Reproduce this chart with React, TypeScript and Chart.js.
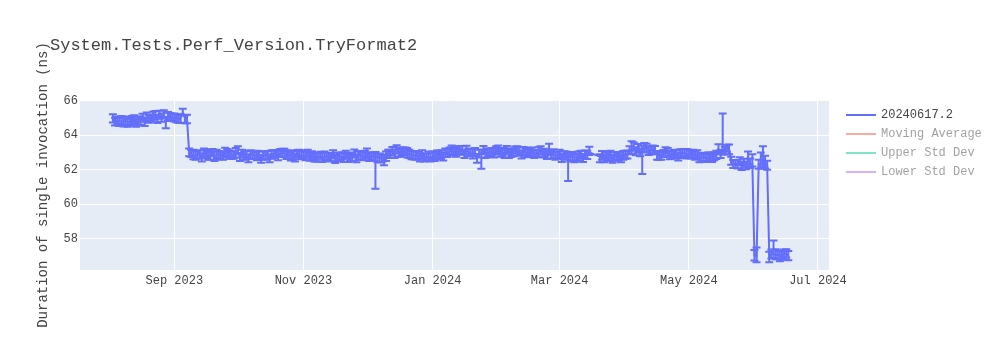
import React, { useEffect, useRef } from "react";
import { Chart, registerables } from "chart.js";

Chart.register(...registerables);

const chartTitle = "System.Tests.Perf_Version.TryFormat2";
const yAxisTitle = "Duration of single invocation (ns)";
const seriesName = "20240617.2";
const seriesColor = "#636EFA";
const hiddenSeriesNames = ["Moving Average", "Upper Std Dev", "Lower Std Dev"];
const hiddenSeriesColors = ["#EF553B", "#00CC96", "#AB63FA"];

const dates = [
  "2023-08-03", "2023-08-04", "2023-08-05", "2023-08-06", "2023-08-07", "2023-08-08", "2023-08-09", "2023-08-10", "2023-08-11", "2023-08-12",
  "2023-08-13", "2023-08-14", "2023-08-15", "2023-08-16", "2023-08-17", "2023-08-18", "2023-08-19", "2023-08-20", "2023-08-21", "2023-08-22",
  "2023-08-23", "2023-08-24", "2023-08-25", "2023-08-26", "2023-08-27", "2023-08-28", "2023-08-29", "2023-08-30", "2023-08-31",
  "2023-09-01", "2023-09-02", "2023-09-03", "2023-09-04", "2023-09-05", "2023-09-06", "2023-09-07", "2023-09-08", "2023-09-09", "2023-09-10",
  "2023-09-11", "2023-09-12", "2023-09-13", "2023-09-14", "2023-09-15", "2023-09-16", "2023-09-17", "2023-09-18", "2023-09-19", "2023-09-20",
  "2023-09-21", "2023-09-22", "2023-09-23", "2023-09-24", "2023-09-25", "2023-09-26", "2023-09-27", "2023-09-28", "2023-09-29", "2023-09-30",
  "2023-10-01", "2023-10-02", "2023-10-03", "2023-10-04", "2023-10-05", "2023-10-06", "2023-10-07", "2023-10-08", "2023-10-09", "2023-10-10",
  "2023-10-11", "2023-10-12", "2023-10-13", "2023-10-14", "2023-10-15", "2023-10-16", "2023-10-17", "2023-10-18", "2023-10-19", "2023-10-20",
  "2023-10-21", "2023-10-22", "2023-10-23", "2023-10-24", "2023-10-25", "2023-10-26", "2023-10-27", "2023-10-28", "2023-10-29", "2023-10-30",
  "2023-10-31",
  "2023-11-01", "2023-11-02", "2023-11-03", "2023-11-04", "2023-11-05", "2023-11-06", "2023-11-07", "2023-11-08", "2023-11-09", "2023-11-10",
  "2023-11-11", "2023-11-12", "2023-11-13", "2023-11-14", "2023-11-15", "2023-11-16", "2023-11-17", "2023-11-18", "2023-11-19", "2023-11-20",
  "2023-11-21", "2023-11-22", "2023-11-23", "2023-11-24", "2023-11-25", "2023-11-26", "2023-11-27", "2023-11-28", "2023-11-29", "2023-11-30",
  "2023-12-01", "2023-12-02", "2023-12-03", "2023-12-04", "2023-12-05", "2023-12-06", "2023-12-07", "2023-12-08", "2023-12-09", "2023-12-10",
  "2023-12-11", "2023-12-12", "2023-12-13", "2023-12-14", "2023-12-15", "2023-12-16", "2023-12-17", "2023-12-18", "2023-12-19", "2023-12-20",
  "2023-12-21", "2023-12-22", "2023-12-23", "2023-12-24", "2023-12-25", "2023-12-26", "2023-12-27", "2023-12-28", "2023-12-29", "2023-12-30",
  "2023-12-31",
  "2024-01-01", "2024-01-02", "2024-01-03", "2024-01-04", "2024-01-05", "2024-01-06", "2024-01-07", "2024-01-08", "2024-01-09", "2024-01-10",
  "2024-01-11", "2024-01-12", "2024-01-13", "2024-01-14", "2024-01-15", "2024-01-16", "2024-01-17", "2024-01-18", "2024-01-19", "2024-01-20",
  "2024-01-21", "2024-01-22", "2024-01-23", "2024-01-24", "2024-01-25", "2024-01-26", "2024-01-27", "2024-01-28", "2024-01-29", "2024-01-30",
  "2024-01-31",
  "2024-02-01", "2024-02-02", "2024-02-03", "2024-02-04", "2024-02-05", "2024-02-06", "2024-02-07", "2024-02-08", "2024-02-09", "2024-02-10",
  "2024-02-11", "2024-02-12", "2024-02-13", "2024-02-14", "2024-02-15", "2024-02-16", "2024-02-17", "2024-02-18", "2024-02-19", "2024-02-20",
  "2024-02-21", "2024-02-22", "2024-02-23", "2024-02-24", "2024-02-25", "2024-02-26", "2024-02-27", "2024-02-28", "2024-02-29",
  "2024-03-01", "2024-03-02", "2024-03-03", "2024-03-04", "2024-03-05", "2024-03-06", "2024-03-07", "2024-03-08", "2024-03-09", "2024-03-10",
  "2024-03-11", "2024-03-12", "2024-03-13", "2024-03-14", "2024-03-15", "2024-03-20", "2024-03-21", "2024-03-22", "2024-03-23", "2024-03-24",
  "2024-03-25", "2024-03-26", "2024-03-27", "2024-03-28", "2024-03-29", "2024-03-30", "2024-03-31",
  "2024-04-01", "2024-04-02", "2024-04-03", "2024-04-04", "2024-04-05", "2024-04-06", "2024-04-07", "2024-04-08", "2024-04-09", "2024-04-10",
  "2024-04-11", "2024-04-12", "2024-04-13", "2024-04-14", "2024-04-15", "2024-04-16", "2024-04-17", "2024-04-18", "2024-04-19", "2024-04-20",
  "2024-04-21", "2024-04-22", "2024-04-23", "2024-04-24", "2024-04-25", "2024-04-26", "2024-04-27", "2024-04-28", "2024-04-29", "2024-04-30",
  "2024-05-01", "2024-05-02", "2024-05-03", "2024-05-04", "2024-05-05", "2024-05-06", "2024-05-07", "2024-05-08", "2024-05-09", "2024-05-10",
  "2024-05-11", "2024-05-12", "2024-05-13", "2024-05-14", "2024-05-15", "2024-05-16", "2024-05-17", "2024-05-18", "2024-05-19", "2024-05-20",
  "2024-05-21", "2024-05-22", "2024-05-23", "2024-05-24", "2024-05-25", "2024-05-26", "2024-05-27", "2024-05-28", "2024-05-29", "2024-05-30",
  "2024-05-31",
  "2024-06-01", "2024-06-02", "2024-06-03", "2024-06-04", "2024-06-05", "2024-06-06", "2024-06-07", "2024-06-08", "2024-06-09", "2024-06-10",
  "2024-06-11", "2024-06-12", "2024-06-13", "2024-06-14", "2024-06-15", "2024-06-16", "2024-06-17",
];

const values = [
  // Aug 2023
  64.9, 64.85, 64.82, 64.8, 64.78, 64.82, 64.8, 64.76, 64.75, 64.8,
  64.85, 64.78, 64.8, 64.88, 64.92, 64.85, 65.02, 64.98, 64.95, 65.05,
  65.1, 65.0, 65.15, 65.05, 65.12, 64.9, 65.05, 65.1, 65.0,
  // Sep
  64.95, 65.05, 64.9, 65.0, 65.3, 65.0, 64.9, 63.05, 62.9, 62.85,
  62.75, 62.95, 62.85, 62.75, 62.9, 63.0, 62.8, 62.85, 62.95, 62.75,
  62.85, 62.9, 62.8, 62.85, 62.95, 63.05, 62.85, 62.9, 62.8, 62.95,
  // Oct
  63.05, 62.8, 62.9, 62.85, 62.75, 62.75, 62.85, 62.9, 62.8, 62.8,
  62.75, 62.7, 62.8, 62.85, 62.75, 62.75, 62.85, 62.95, 62.9, 62.8,
  62.9, 63.05, 62.95, 62.9, 62.8, 62.85, 62.8, 62.75, 62.9, 62.85,
  62.8,
  // Nov
  62.8, 62.85, 62.9, 62.8, 62.75, 62.8, 62.7, 62.75, 62.8, 62.7,
  62.75, 62.8, 62.7, 62.75, 62.8, 62.7, 62.72, 62.78, 62.75, 62.7,
  62.8, 62.75, 62.7, 62.8, 62.85, 62.75, 62.8, 62.85, 62.75, 62.8,
  // Dec
  62.85, 62.8, 62.75, 62.8, 62.7, 62.75, 62.65, 62.7, 62.6, 62.75,
  62.85, 63.0, 63.05, 62.95, 63.1, 63.05, 63.0, 63.1, 63.05, 62.95,
  62.85, 62.9, 62.8, 62.85, 62.75, 62.8, 62.85, 62.75, 62.7, 62.75,
  62.65,
  // Jan 2024
  62.75, 62.8, 62.85, 62.9, 62.8, 62.85, 62.95, 63.0, 63.05, 63.1,
  63.0, 63.05, 63.1, 63.15, 63.05, 63.0, 63.1, 63.05, 62.95, 62.9,
  62.95, 62.75, 62.9, 62.95, 63.05, 63.0, 62.95, 63.05, 63.0, 62.95,
  63.05,
  // Feb
  63.1, 63.05, 63.0, 62.95, 63.05, 63.0, 62.95, 63.05, 63.1, 63.05,
  63.0, 62.95, 63.05, 63.0, 62.95, 63.05, 63.0, 62.95, 62.9, 63.0,
  63.05, 63.0, 62.95, 62.9, 63.0, 62.95, 62.9, 62.85, 62.8,
  // Mar
  62.85, 62.75, 62.8, 62.85, 62.7, 62.8, 62.75, 62.7, 62.7, 62.75,
  62.8, 62.75, 62.85, 62.9, 63.0, 62.75, 62.8, 62.7, 62.75, 62.75,
  62.8, 62.7, 62.75, 62.8, 62.7, 62.75, 62.8,
  // Apr
  62.8, 62.95, 63.1, 63.2, 63.25, 63.15, 63.2, 63.05, 63.15, 63.25,
  63.2, 63.15, 63.1, 63.2, 63.05, 62.9, 62.8, 62.85, 62.9, 63.0,
  62.95, 62.9, 62.85, 62.95, 62.8, 62.85, 62.9, 63.0, 62.95, 62.9,
  // May
  62.85, 62.95, 62.9, 62.85, 62.8, 62.75, 62.7, 62.75, 62.65, 62.7,
  62.7, 62.75, 62.75, 62.9, 63.05, 63.0, 63.1, 63.15, 63.2, 63.15,
  62.45, 62.4, 62.3, 62.35, 62.4, 62.3, 62.35, 62.3, 62.3, 62.35,
  62.35,
  // Jun
  57.05, 57.0, 62.3, 62.35, 62.4, 62.3, 62.25, 57.0, 57.1, 57.15,
  57.05, 57.1, 57.0, 57.05, 57.1, 57.15, 57.05,
];

const errPlus = [
  // Aug 2023
  0.3, 0.16, 0.26, 0.2, 0.32, 0.15, 0.28, 0.18, 0.24, 0.3,
  0.3, 0.16, 0.26, 0.2, 0.32, 0.15, 0.28, 0.18, 0.24, 0.3,
  0.3, 0.16, 0.26, 0.2, 0.32, 0.15, 0.28, 0.18, 0.24,
  // Sep
  0.3, 0.16, 0.26, 0.2, 0.22, 0.15, 0.28, 0.18, 0.24, 0.3,
  0.3, 0.16, 0.26, 0.2, 0.32, 0.15, 0.28, 0.18, 0.24, 0.3,
  0.3, 0.16, 0.26, 0.2, 0.32, 0.15, 0.28, 0.18, 0.24, 0.3,
  // Oct
  0.3, 0.16, 0.26, 0.2, 0.32, 0.15, 0.28, 0.18, 0.24, 0.3,
  0.3, 0.16, 0.26, 0.2, 0.32, 0.15, 0.28, 0.18, 0.24, 0.3,
  0.3, 0.16, 0.26, 0.2, 0.32, 0.15, 0.28, 0.18, 0.24, 0.3,
  0.3,
  // Nov
  0.3, 0.16, 0.26, 0.2, 0.32, 0.15, 0.28, 0.18, 0.24, 0.3,
  0.3, 0.16, 0.26, 0.2, 0.32, 0.15, 0.28, 0.18, 0.24, 0.3,
  0.3, 0.16, 0.26, 0.2, 0.32, 0.15, 0.28, 0.18, 0.24, 0.3,
  // Dec
  0.38, 0.16, 0.26, 0.2, 0.32, 0.15, 0.28, 0.18, 0.24, 0.3,
  0.3, 0.16, 0.26, 0.2, 0.32, 0.15, 0.28, 0.18, 0.24, 0.3,
  0.3, 0.16, 0.26, 0.2, 0.32, 0.15, 0.28, 0.18, 0.24, 0.3,
  0.3,
  // Jan 2024
  0.3, 0.16, 0.26, 0.2, 0.32, 0.15, 0.28, 0.18, 0.24, 0.3,
  0.3, 0.16, 0.26, 0.2, 0.32, 0.15, 0.28, 0.18, 0.24, 0.3,
  0.3, 0.16, 0.26, 0.2, 0.32, 0.15, 0.28, 0.18, 0.24, 0.3,
  0.3,
  // Feb
  0.3, 0.16, 0.26, 0.2, 0.32, 0.15, 0.28, 0.18, 0.24, 0.3,
  0.3, 0.16, 0.26, 0.2, 0.32, 0.15, 0.28, 0.18, 0.24, 0.3,
  0.3, 0.16, 0.26, 0.2, 0.5, 0.15, 0.28, 0.18, 0.24,
  // Mar
  0.3, 0.16, 0.26, 0.2, 0.32, 0.15, 0.28, 0.18, 0.24, 0.3,
  0.3, 0.16, 0.26, 0.2, 0.32, 0.15, 0.28, 0.18, 0.24, 0.3,
  0.3, 0.16, 0.26, 0.2, 0.32, 0.15, 0.28,
  // Apr
  0.3, 0.16, 0.26, 0.45, 0.32, 0.15, 0.28, 0.18, 0.24, 0.3,
  0.3, 0.16, 0.26, 0.2, 0.32, 0.15, 0.28, 0.18, 0.24, 0.3,
  0.3, 0.16, 0.26, 0.2, 0.32, 0.15, 0.28, 0.18, 0.24, 0.3,
  // May
  0.3, 0.16, 0.26, 0.2, 0.32, 0.15, 0.28, 0.18, 0.24, 0.3,
  0.3, 0.16, 0.26, 0.2, 0.42, 0.15, 2.15, 0.18, 0.24, 0.3,
  0.3, 0.16, 0.26, 0.2, 0.32, 0.15, 0.28, 0.18, 0.75, 0.3,
  0.55,
  // Jun
  0.3, 0.5, 0.28, 0.65, 0.95, 0.5, 0.26, 0.25, 0.28, 0.75,
  0.35, 0.23, 0.28, 0.25, 0.28, 0.25, 0.25,
];

const errMinus = [
  // Aug 2023
  0.17, 0.3, 0.2, 0.28, 0.15, 0.32, 0.22, 0.27, 0.16, 0.25,
  0.17, 0.3, 0.2, 0.28, 0.15, 0.32, 0.22, 0.27, 0.16, 0.25,
  0.17, 0.3, 0.2, 0.28, 0.15, 0.5, 0.22, 0.27, 0.16,
  // Sep
  0.17, 0.3, 0.2, 0.28, 0.15, 0.32, 0.22, 0.27, 0.16, 0.25,
  0.17, 0.3, 0.2, 0.28, 0.15, 0.32, 0.22, 0.27, 0.16, 0.25,
  0.17, 0.3, 0.2, 0.28, 0.15, 0.32, 0.22, 0.27, 0.16, 0.25,
  // Oct
  0.17, 0.3, 0.2, 0.28, 0.15, 0.32, 0.22, 0.27, 0.16, 0.25,
  0.17, 0.3, 0.2, 0.28, 0.15, 0.32, 0.22, 0.27, 0.16, 0.25,
  0.17, 0.3, 0.2, 0.28, 0.15, 0.32, 0.22, 0.27, 0.16, 0.25,
  0.17,
  // Nov
  0.17, 0.3, 0.2, 0.28, 0.15, 0.32, 0.22, 0.27, 0.16, 0.25,
  0.17, 0.3, 0.2, 0.28, 0.15, 0.32, 0.22, 0.27, 0.16, 0.25,
  0.17, 0.3, 0.2, 0.28, 0.15, 0.32, 0.22, 0.27, 0.16, 0.25,
  // Dec
  0.17, 0.3, 0.2, 0.28, 1.8, 0.32, 0.22, 0.27, 0.35, 0.25,
  0.17, 0.3, 0.2, 0.28, 0.15, 0.32, 0.22, 0.27, 0.16, 0.25,
  0.17, 0.3, 0.2, 0.28, 0.15, 0.32, 0.22, 0.27, 0.16, 0.25,
  0.17,
  // Jan 2024
  0.17, 0.3, 0.2, 0.28, 0.15, 0.32, 0.22, 0.27, 0.16, 0.25,
  0.17, 0.3, 0.2, 0.28, 0.15, 0.32, 0.22, 0.27, 0.16, 0.25,
  0.17, 0.35, 0.2, 0.9, 0.15, 0.32, 0.22, 0.27, 0.16, 0.25,
  0.17,
  // Feb
  0.17, 0.3, 0.2, 0.28, 0.15, 0.32, 0.22, 0.27, 0.16, 0.25,
  0.17, 0.3, 0.2, 0.28, 0.15, 0.32, 0.22, 0.27, 0.16, 0.25,
  0.17, 0.3, 0.2, 0.28, 0.15, 0.32, 0.22, 0.27, 0.16,
  // Mar
  0.17, 0.3, 0.2, 0.28, 1.35, 0.32, 0.22, 0.27, 0.16, 0.25,
  0.17, 0.3, 0.2, 0.28, 0.15, 0.32, 0.22, 0.27, 0.16, 0.25,
  0.17, 0.3, 0.2, 0.28, 0.15, 0.32, 0.22,
  // Apr
  0.17, 0.3, 0.2, 0.28, 0.15, 0.32, 0.22, 0.27, 1.4, 0.25,
  0.17, 0.3, 0.2, 0.28, 0.15, 0.32, 0.22, 0.27, 0.16, 0.25,
  0.17, 0.3, 0.2, 0.28, 0.15, 0.32, 0.22, 0.27, 0.16, 0.25,
  // May
  0.17, 0.3, 0.2, 0.28, 0.15, 0.32, 0.22, 0.27, 0.16, 0.25,
  0.17, 0.3, 0.2, 0.28, 0.15, 0.32, 0.22, 0.27, 0.16, 0.25,
  0.17, 0.3, 0.2, 0.28, 0.15, 0.32, 0.22, 0.27, 0.16, 0.25,
  0.17,
  // Jun
  0.3, 0.35, 0.25, 0.26, 0.28, 0.23, 0.25, 0.35, 0.24, 0.26,
  0.23, 0.28, 0.3, 0.26, 0.28, 0.23, 0.28,
];

const xRange = ["2023-07-18T11:00:00Z", "2024-07-06T05:00:00Z"];
const xTickDates = ["2023-09-01", "2023-11-01", "2024-01-01", "2024-03-01", "2024-05-01", "2024-07-01"];
const xTickLabels = ["Sep 2023", "Nov 2023", "Jan 2024", "Mar 2024", "May 2024", "Jul 2024"];
const yRange = [56.2, 66.03];
const yTicks = [58, 60, 62, 64, 66];

const FONT = '"Courier New", "Liberation Mono", monospace';
const TEXT = "#444444";

const plotBgPlugin = {
  id: "plotBg",
  beforeDraw(chart: any) {
    const { ctx, chartArea, width, height } = chart;
    ctx.save();
    ctx.fillStyle = "#ffffff";
    ctx.fillRect(0, 0, width, height);
    ctx.fillStyle = "#E5ECF6";
    ctx.fillRect(chartArea.left, chartArea.top, chartArea.right - chartArea.left, chartArea.bottom - chartArea.top);
    ctx.restore();
  },
};

const errorBarPlugin = {
  id: "errorBars",
  afterDatasetsDraw(chart: any) {
    if (!chart.isDatasetVisible(0)) return;
    const { ctx, chartArea, scales } = chart;
    const ds = chart.data.datasets[0];
    ctx.save();
    ctx.beginPath();
    ctx.rect(chartArea.left, chartArea.top, chartArea.right - chartArea.left, chartArea.bottom - chartArea.top);
    ctx.clip();
    ctx.strokeStyle = ds.borderColor;
    ctx.lineWidth = 2;
    const half = 4;
    ds.data.forEach((p: any) => {
      const x = scales.x.getPixelForValue(p.x);
      const yTop = scales.y.getPixelForValue(p.y + p.plus);
      const yBot = scales.y.getPixelForValue(p.y - p.minus);
      ctx.beginPath();
      ctx.moveTo(x, yTop);
      ctx.lineTo(x, yBot);
      ctx.moveTo(x - half, yTop);
      ctx.lineTo(x + half, yTop);
      ctx.moveTo(x - half, yBot);
      ctx.lineTo(x + half, yBot);
      ctx.stroke();
    });
    ctx.restore();
  },
};

const textPlugin = {
  id: "texts",
  afterDraw(chart: any) {
    const { ctx, chartArea } = chart;
    ctx.save();
    ctx.fillStyle = TEXT;
    ctx.textBaseline = "middle";
    ctx.textAlign = "left";
    ctx.font = `17px ${FONT}`;
    ctx.fillText(chartTitle, 50, 45);

    ctx.save();
    ctx.translate(43, (chartArea.top + chartArea.bottom) / 2);
    ctx.rotate(-Math.PI / 2);
    ctx.textAlign = "center";
    ctx.font = `14px ${FONT}`;
    ctx.fillText(yAxisTitle, 0, 0);
    ctx.restore();

    ctx.font = `12px ${FONT}`;
    chart.data.datasets.forEach((ds: any, i: number) => {
      const y = 115 + i * 19;
      ctx.globalAlpha = chart.isDatasetVisible(i) ? 1 : 0.5;
      ctx.strokeStyle = ds.borderColor;
      ctx.lineWidth = 2;
      ctx.beginPath();
      ctx.moveTo(846, y);
      ctx.lineTo(876, y);
      ctx.stroke();
      ctx.fillStyle = TEXT;
      ctx.fillText(ds.label, 881, y);
    });
    ctx.restore();
  },
};

export default function App() {
  const ref = useRef<HTMLCanvasElement>(null);

  useEffect(() => {
    document.body.style.margin = "0";
    const canvas = ref.current;
    if (!canvas) return;
    const points = dates.map((d, i) => ({
      x: Date.parse(d),
      y: values[i],
      plus: errPlus[i],
      minus: errMinus[i],
    }));
    const chart = new Chart(canvas, {
      type: "line",
      data: {
        datasets: [
          {
            label: seriesName,
            data: points as any,
            borderColor: seriesColor,
            backgroundColor: seriesColor,
            borderWidth: 2,
            pointRadius: 0,
            tension: 0,
            fill: false,
          },
          ...hiddenSeriesNames.map((name, i) => ({
            label: name,
            data: [] as any[],
            borderColor: hiddenSeriesColors[i],
            backgroundColor: hiddenSeriesColors[i],
            borderWidth: 2,
            pointRadius: 0,
            hidden: true,
          })),
        ],
      },
      options: {
        responsive: false,
        animation: false,
        devicePixelRatio: 1,
        parsing: { xAxisKey: "x", yAxisKey: "y" } as any,
        layout: { padding: { left: 0, right: 171, top: 100, bottom: 0 } },
        plugins: {
          legend: { display: false },
          title: { display: false },
          tooltip: { enabled: false },
        },
        scales: {
          x: {
            type: "linear",
            min: Date.parse(xRange[0]),
            max: Date.parse(xRange[1]),
            afterFit: (s: any) => {
              s.height = 80;
            },
            afterBuildTicks: (s: any) => {
              s.ticks = xTickDates.map((d) => ({ value: Date.parse(d) }));
            },
            ticks: {
              autoSkip: false,
              maxRotation: 0,
              padding: 4,
              color: TEXT,
              font: { family: FONT, size: 12 },
              callback: (_v: any, i: number) => xTickLabels[i],
            },
            grid: { color: "#ffffff", lineWidth: 1, drawTicks: false },
            border: { display: false },
          },
          y: {
            type: "linear",
            min: yRange[0],
            max: yRange[1],
            afterFit: (s: any) => {
              s.width = 80;
            },
            afterBuildTicks: (s: any) => {
              s.ticks = yTicks.map((v) => ({ value: v }));
            },
            ticks: {
              padding: 2,
              color: TEXT,
              font: { family: FONT, size: 12 },
              callback: (v: any) => String(v),
            },
            grid: { color: "#ffffff", lineWidth: 1, drawTicks: false },
            border: { display: false },
          },
        },
      },
      plugins: [plotBgPlugin, errorBarPlugin, textPlugin],
    });
    return () => chart.destroy();
  }, []);

  return <canvas ref={ref} width={1000} height={350} style={{ display: "block" }} />;
}
